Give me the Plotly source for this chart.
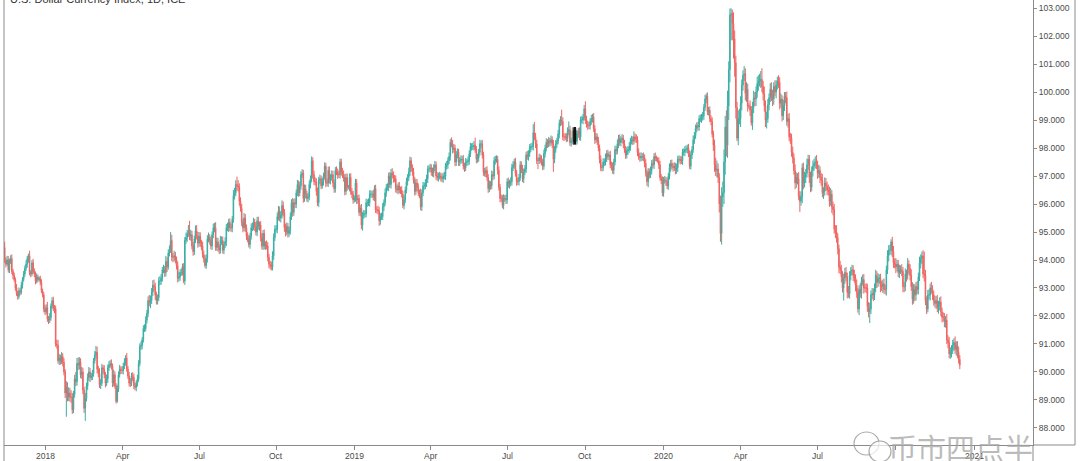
import pandas as pd
import plotly.graph_objects as go

# ---------------- data ----------------
start_date = "2017-11-13"          # first daily bar (business days)
open0 = 94.55                      # open of the first bar

# daily closes, one line per trading week
close = [
    94.45, 94.00, 93.85, 94.00, 93.65,
    93.95, 94.05, 93.60, 93.45, 93.30,
    93.00, 92.80, 92.70, 92.90, 92.85,
    93.10, 93.30, 93.50, 93.70, 93.85,
    94.05, 94.15, 93.55, 93.50, 93.90,
    93.60, 93.50, 93.25, 93.40, 93.30,
    93.35, 93.20, 92.90, 92.75, 92.25,
    92.15, 92.30, 91.90, 91.85, 91.95,
    92.35, 92.55, 92.30, 92.25, 91.00,
    90.95, 90.40, 90.50, 90.40, 90.55,
    90.35, 90.00, 89.25, 89.45, 89.10,
    89.25, 89.10, 89.10, 88.65, 89.20,
    89.75, 89.65, 90.30, 90.25, 90.35,
    89.90, 90.00, 89.35, 88.70, 89.05,
    89.50, 89.80, 90.00, 89.80, 89.85,
    89.95, 90.40, 90.60, 90.70, 90.10,
    89.95, 89.55, 89.60, 90.15, 90.10,
    89.90, 89.60, 89.75, 90.15, 90.25,
    90.30, 90.20, 89.60, 89.90, 89.50,
    88.95, 89.40, 89.90, 90.10, 90.05,
    90.05, 90.20, 90.35, 90.50, 90.10,
    89.85, 89.60, 89.60, 89.85, 89.80,
    89.50, 89.45, 89.60, 89.75, 90.30,
    90.90, 90.95, 91.15, 91.55, 91.55,
    91.85, 92.10, 92.55, 92.50, 92.55,
    92.85, 93.10, 93.05, 92.75, 92.55,
    92.65, 93.25, 93.25, 93.35, 93.65,
    93.65, 93.55, 93.95, 93.75, 94.25,
    94.40, 94.70, 94.10, 94.10, 94.15,
    94.00, 93.80, 93.35, 93.40, 93.55,
    93.55, 93.75, 93.25, 94.70, 94.80,
    94.95, 95.05, 94.85, 94.90, 94.50,
    94.30, 94.75, 95.05, 94.85, 94.60,
    94.85, 94.60, 94.50, 94.20, 94.05,
    93.80, 94.05, 94.75, 94.80, 94.70,
    94.50, 94.90, 95.15, 95.15, 94.45,
    94.65, 94.45, 94.35, 94.70, 94.70,
    94.35, 94.55, 94.65, 95.15, 95.15,
    95.35, 95.15, 95.15, 95.45, 96.30,
    96.40, 96.70, 96.65, 96.60, 96.10,
    95.85, 95.35, 95.15, 95.50, 95.15,
    94.85, 94.75, 94.55, 94.85, 95.15,
    95.20, 95.35, 95.20, 95.00, 95.40,
    95.20, 95.25, 94.80, 94.50, 94.95,
    94.50, 94.55, 94.50, 94.10, 93.85,
    93.80, 93.75, 94.15, 94.80, 95.10,
    95.10, 95.55, 95.75, 95.50, 95.60,
    95.95, 95.70, 95.15, 95.00, 95.20,
    94.95, 95.05, 95.55, 96.05, 95.70,
    96.05, 96.00, 96.40, 96.70, 96.40,
    96.65, 97.05, 97.10, 96.20, 96.55,
    96.35, 96.20, 96.25, 96.70, 96.90,
    97.55, 97.05, 96.80, 96.80, 96.45,
    96.05, 96.85, 96.90, 96.65, 96.80,
    97.00, 97.35, 96.75, 96.75, 97.20,
    96.85, 96.95, 97.05, 96.75, 96.55,
    97.20, 97.15, 97.05, 97.05, 97.50,
    97.15, 97.05, 96.95, 96.45, 96.95,
    96.60, 96.60, 96.95, 96.45, 96.35,
    96.15, 96.20, 96.75, 96.15, 96.20,
    95.70, 95.85, 95.25, 95.60, 95.65,
    95.65, 96.05, 96.05, 96.05, 96.35,
    96.35, 96.35, 96.25, 96.55, 95.80,
    95.80, 95.75, 95.40, 95.55, 95.55,
    95.90, 96.05, 96.40, 96.60, 96.60,
    97.00, 96.70, 97.10, 97.05, 96.90,
    96.90, 96.55, 96.50, 96.65, 96.50,
    96.50, 96.35, 95.95, 96.15, 96.50,
    96.80, 96.95, 97.15, 97.55, 97.30,
    97.15, 96.85, 96.45, 96.75, 96.60,
    96.40, 96.35, 95.90, 96.40, 96.65,
    96.65, 96.75, 96.90, 97.25, 97.25,
    97.30, 97.15, 97.10, 97.30, 97.40,
    97.00, 96.95, 97.00, 97.00, 96.95,
    96.90, 97.00, 97.00, 97.35, 97.40,
    97.55, 97.70, 98.20, 98.15, 97.95,
    98.00, 97.50, 97.75, 97.85, 97.50,
    97.55, 97.60, 97.60, 97.35, 97.30,
    97.50, 97.50, 97.55, 97.80, 98.05,
    98.05, 98.05, 98.10, 97.95, 97.60,
    97.65, 97.85, 98.15, 98.15, 97.75,
    97.15, 97.10, 97.20, 96.95, 96.55,
    96.70, 96.65, 97.05, 97.00, 97.55,
    97.60, 97.60, 97.20, 96.60, 96.20,
    96.20, 95.95, 96.20, 96.20, 96.15,
    96.80, 96.70, 96.75, 96.80, 97.30,
    97.40, 97.50, 97.10, 96.80, 96.80,
    96.95, 97.40, 97.25, 96.90, 97.15,
    97.25, 97.75, 97.70, 97.80, 98.00,
    98.05, 98.05, 98.55, 98.40, 98.15,
    97.55, 97.55, 97.65, 97.60, 97.50,
    97.35, 97.80, 98.00, 98.20, 98.15,
    98.25, 98.20, 98.30, 98.15, 97.60,
    97.95, 98.15, 98.25, 98.50, 98.90,
    99.00, 98.95, 98.40, 98.40, 98.40,
    98.35, 98.60, 98.65, 98.20, 98.25,
    98.60, 98.25, 98.60, 98.25, 98.50,
    98.60, 98.40, 99.00, 99.00, 99.10,
    99.40, 99.00, 98.85, 98.80, 98.80,
    98.95, 99.05, 99.10, 98.70, 98.30,
    98.40, 98.25, 98.00, 97.60, 97.30,
    97.30, 97.50, 97.50, 97.65, 97.80,
    97.70, 97.75, 97.40, 97.35, 97.20,
    97.50, 97.95, 97.90, 98.15, 98.35,
    98.20, 98.30, 98.35, 98.15, 97.95,
    97.75, 97.90, 97.95, 98.05, 98.25,
    98.30, 98.25, 98.40, 98.35, 98.30,
    97.85, 97.70, 97.65, 97.70, 97.70,
    97.65, 97.45, 97.10, 96.80, 97.15,
    97.05, 97.20, 97.45, 97.40, 97.70,
    97.65, 97.60, 97.55, 97.40, 96.95,
    96.85, 96.40, 96.85, 96.85, 96.80,
    96.65, 97.00, 97.30, 97.45, 97.35,
    97.30, 97.35, 97.20, 97.30, 97.60,
    97.60, 97.55, 97.55, 97.85, 97.85,
    97.95, 97.95, 98.00, 97.80, 97.35,
    97.75, 97.95, 98.30, 98.45, 98.70,
    98.80, 98.75, 99.05, 99.05, 99.10,
    99.15, 99.45, 99.75, 99.85, 99.30,
    99.35, 99.05, 98.95, 98.50, 98.10,
    97.40, 97.20, 97.25, 96.95, 96.00,
    94.95, 96.25, 96.40, 97.50, 98.75,
    98.10, 99.50, 100.80, 102.75, 102.80,
    102.45, 101.90, 101.05, 99.45, 98.35,
    99.05, 99.05, 99.60, 100.25, 100.60,
    100.65, 99.95, 100.10, 99.50, 99.50,
    99.35, 98.90, 99.45, 99.80, 99.75,
    100.00, 100.30, 100.40, 100.40, 100.45,
    100.20, 99.95, 99.50, 99.00, 99.05,
    99.55, 99.80, 100.10, 99.90, 99.75,
    100.20, 100.00, 100.25, 100.40, 100.35,
    99.60, 99.75, 99.15, 99.50, 99.85,
    99.80, 98.95, 99.05, 98.40, 98.35,
    97.85, 97.65, 97.20, 96.75, 96.95,
    96.90, 96.30, 96.10, 96.25, 97.30,
    96.75, 96.95, 97.10, 97.40, 97.60,
    96.95, 96.60, 97.20, 97.35, 97.45,
    97.50, 97.40, 97.10, 97.20, 96.95,
    96.85, 96.40, 96.45, 96.75, 96.65,
    96.50, 96.45, 96.10, 96.35, 95.90,
    95.80, 95.10, 95.00, 94.80, 94.40,
    93.75, 93.65, 93.40, 93.00, 93.35,
    93.55, 93.40, 92.85, 92.80, 93.45,
    93.60, 93.65, 93.45, 93.35, 93.10,
    92.85, 92.25, 92.95, 92.80, 93.25,
    93.30, 93.00, 93.00, 93.00, 92.35,
    92.15, 92.25, 92.75, 92.80, 92.75,
    93.00, 93.45, 93.20, 93.35, 93.35,
    93.05, 93.05, 93.15, 92.95, 92.95,
    93.65, 94.15, 94.35, 94.35, 94.65,
    94.30, 93.90, 93.85, 93.75, 93.85,
    93.55, 93.65, 93.65, 93.60, 93.05,
    93.05, 93.50, 93.45, 93.85, 93.70,
    93.45, 93.05, 92.60, 92.95, 92.75,
    93.05, 92.95, 93.40, 93.90, 94.05,
    94.15, 93.50, 93.45, 92.55, 92.25,
    92.75, 92.75, 93.00, 92.95, 92.75,
    92.55, 92.45, 92.55, 92.30, 92.40,
    92.50, 92.15, 91.95, 91.95, 91.80,
    91.85, 91.15, 91.05, 90.65, 90.70,
    90.80, 90.95, 91.05, 90.80, 90.95,
    90.70, 90.45, 90.25,
]

# upper wick above the candle body, hundredths of an index point
wick_hi = [
    12, 20, 10, 15, 14,
    10, 12, 15, 8, 10,
    8, 14, 10, 12, 9,
    12, 9, 11, 10, 14,
    10, 8, 18, 9, 10,
    14, 10, 9, 12, 8,
    6, 9, 11, 8, 10,
    14, 12, 20, 10, 15,
    10, 12, 14, 9, 12,
    15, 20, 14, 12, 16,
    12, 14, 10, 22, 18,
    20, 18, 25, 15, 12,
    15, 25, 20, 22, 18,
    14, 18, 15, 12, 20,
    12, 15, 18, 14, 12,
    12, 10, 15, 23, 20,
    12, 18, 15, 14, 10,
    14, 10, 16, 12, 14,
    12, 15, 10, 18, 12,
    10, 14, 12, 15, 10,
    15, 12, 14, 10, 18,
    12, 15, 18, 12, 14,
    14, 12, 10, 15, 12,
    12, 14, 10, 12, 15,
    14, 12, 15, 20, 18,
    15, 18, 20, 14, 12,
    12, 14, 18, 15, 10,
    18, 14, 20, 15, 12,
    12, 30, 20, 15, 18,
    14, 12, 15, 18, 12,
    15, 12, 14, 12, 18,
    12, 20, 35, 18, 14,
    14, 12, 18, 20, 15,
    15, 14, 12, 16, 14,
    12, 15, 14, 18, 12,
    14, 12, 15, 18, 20,
    15, 14, 12, 16, 14,
    14, 12, 16, 14, 18,
    12, 14, 15, 12, 20,
    18, 15, 28, 20, 14,
    14, 15, 12, 18, 14,
    12, 14, 15, 12, 16,
    14, 16, 12, 15, 14,
    15, 12, 14, 16, 12,
    14, 12, 15, 14, 12,
    12, 14, 16, 15, 14,
    15, 14, 18, 16, 14,
    18, 14, 12, 15, 14,
    12, 14, 15, 12, 16,
    14, 15, 12, 16, 14,
    15, 12, 14, 12, 15,
    14, 12, 15, 14, 12,
    15, 12, 14, 15, 12,
    14, 12, 15, 12, 14,
    12, 14, 12, 15, 14,
    14, 12, 15, 14, 12,
    12, 14, 12, 15, 12,
    12, 14, 15, 12, 14,
    14, 8, 14, 15, 12,
    12, 10, 15, 14, 12,
    14, 12, 15, 12, 14,
    12, 14, 12, 15, 14,
    14, 12, 15, 12, 14,
    12, 14, 15, 12, 14,
    14, 12, 15, 12, 14,
    12, 14, 15, 18, 12,
    14, 12, 15, 12, 14,
    12, 14, 12, 15, 12,
    14, 12, 15, 14, 12,
    12, 14, 12, 15, 14,
    14, 12, 20, 12, 14,
    12, 14, 15, 12, 14,
    14, 12, 15, 12, 14,
    12, 14, 12, 15, 12,
    14, 12, 15, 12, 14,
    12, 14, 12, 18, 14,
    14, 12, 15, 14, 12,
    12, 14, 12, 15, 12,
    14, 12, 15, 12, 14,
    12, 14, 15, 27, 12,
    14, 12, 15, 12, 14,
    12, 14, 12, 15, 12,
    14, 12, 15, 12, 14,
    12, 14, 12, 15, 12,
    14, 12, 15, 12, 14,
    12, 14, 12, 15, 14,
    14, 12, 15, 12, 14,
    12, 14, 12, 15, 12,
    14, 12, 15, 12, 14,
    12, 14, 30, 38, 14,
    14, 12, 15, 12, 14,
    12, 14, 12, 15, 12,
    14, 12, 15, 12, 14,
    12, 14, 12, 15, 12,
    14, 37, 15, 12, 14,
    12, 14, 30, 15, 12,
    14, 12, 15, 12, 14,
    12, 14, 12, 15, 12,
    14, 27, 15, 12, 14,
    12, 14, 12, 15, 12,
    14, 12, 15, 12, 14,
    12, 14, 12, 15, 12,
    14, 12, 15, 12, 14,
    12, 14, 12, 15, 12,
    14, 12, 15, 12, 14,
    12, 14, 12, 15, 12,
    14, 12, 20, 12, 14,
    12, 14, 12, 15, 12,
    14, 12, 15, 12, 14,
    12, 14, 12, 15, 12,
    14, 8, 8, 12, 14,
    12, 14, 12, 15, 12,
    14, 12, 15, 12, 14,
    12, 14, 12, 15, 12,
    14, 12, 15, 12, 14,
    12, 14, 12, 15, 12,
    14, 12, 15, 12, 14,
    12, 14, 12, 15, 12,
    14, 12, 15, 10, 14,
    12, 14, 12, 15, 12,
    20, 25, 30, 20, 15,
    30, 35, 40, 45, 40,
    60, 55, 30, 24, 19,
    15, 40, 30, 25, 20,
    30, 35, 25, 20, 18,
    28, 20, 25, 20, 10,
    20, 15, 20, 25, 20,
    20, 25, 20, 25, 30,
    40, 20, 25, 20, 25,
    20, 15, 22, 25, 18,
    15, 22, 17, 15, 20,
    18, 20, 14, 22, 15,
    15, 22, 17, 20, 14,
    16, 20, 15, 22, 18,
    15, 24, 16, 20, 15,
    18, 20, 15, 22, 16,
    15, 20, 14, 20, 17,
    20, 25, 15, 20, 15,
    16, 22, 15, 20, 18,
    15, 20, 17, 22, 15,
    18, 20, 15, 24, 15,
    15, 22, 18, 20, 16,
    17, 20, 15, 22, 15,
    15, 18, 16, 20, 14,
    20, 16, 15, 22, 15,
    18, 20, 15, 17, 15,
    15, 22, 16, 20, 18,
    16, 20, 15, 18, 14,
    16, 21, 15, 19, 17,
    15, 20, 18, 20, 9,
    18, 20, 15, 22, 16,
    15, 18, 16, 20, 15,
    17, 20, 15, 22, 14,
    15, 22, 16, 20, 18,
    16, 20, 15, 22, 15,
    15, 20, 80, 20, 15,
    18, 20, 16, 22, 15,
    15, 18, 16, 20, 14,
    17, 20, 15, 18, 15,
    15, 22, 16, 20, 18,
    16, 20, 15, 22, 15,
    15, 20, 15,
]

# lower wick below the candle body, hundredths of an index point
wick_lo = [
    8, 10, 12, 6, 10,
    12, 9, 10, 14, 8,
    10, 8, 12, 9, 11,
    8, 12, 7, 10, 9,
    12, 15, 10, 12, 8,
    9, 11, 12, 8, 10,
    5, 10, 8, 9, 12,
    12, 9, 11, 14, 10,
    12, 10, 13, 15, 10,
    12, 10, 15, 14, 12,
    15, 12, 18, 85, 15,
    14, 16, 20, 15, 12,
    12, 15, 14, 18, 16,
    12, 15, 14, 16, 45,
    10, 14, 12, 16, 10,
    14, 12, 10, 12, 15,
    14, 12, 16, 10, 15,
    12, 15, 10, 14, 12,
    10, 12, 14, 12, 10,
    8, 5, 12, 10, 12,
    12, 14, 10, 12, 10,
    10, 12, 14, 10, 12,
    12, 10, 14, 12, 10,
    10, 12, 14, 10, 12,
    10, 12, 14, 15, 22,
    12, 14, 15, 18, 14,
    14, 12, 15, 14, 12,
    12, 15, 14, 18, 10,
    12, 15, 14, 18, 15,
    12, 14, 15, 12, 14,
    12, 10, 8, 14, 12,
    15, 12, 14, 16, 12,
    15, 12, 14, 12, 16,
    12, 14, 15, 12, 14,
    8, 12, 14, 12, 15,
    12, 14, 12, 16, 12,
    12, 15, 14, 12, 16,
    12, 14, 12, 15, 12,
    15, 12, 14, 16, 12,
    14, 12, 18, 15, 16,
    12, 14, 16, 12, 15,
    14, 12, 10, 15, 12,
    12, 14, 16, 12, 15,
    12, 15, 14, 12, 14,
    12, 14, 12, 15, 14,
    14, 12, 12, 14, 12,
    12, 15, 14, 12, 16,
    12, 15, 14, 16, 12,
    15, 12, 14, 12, 15,
    12, 14, 15, 12, 14,
    12, 14, 12, 15, 12,
    15, 12, 14, 12, 14,
    12, 14, 12, 14, 15,
    12, 15, 14, 12, 10,
    14, 12, 15, 12, 14,
    12, 15, 12, 14, 15,
    14, 12, 15, 12, 14,
    14, 12, 15, 14, 12,
    12, 8, 15, 12, 14,
    14, 10, 12, 15, 14,
    12, 14, 15, 20, 12,
    14, 12, 15, 12, 14,
    12, 14, 12, 15, 12,
    14, 12, 18, 14, 12,
    12, 15, 12, 14, 12,
    14, 12, 15, 12, 14,
    12, 14, 12, 15, 12,
    14, 12, 10, 14, 12,
    12, 14, 12, 15, 14,
    14, 12, 15, 12, 14,
    12, 14, 12, 15, 12,
    14, 12, 14, 15, 12,
    12, 14, 12, 15, 12,
    14, 12, 15, 12, 14,
    12, 14, 12, 14, 12,
    14, 12, 15, 12, 14,
    12, 15, 14, 12, 14,
    14, 12, 14, 12, 15,
    12, 14, 12, 15, 12,
    14, 12, 14, 12, 15,
    12, 14, 12, 15, 12,
    14, 12, 14, 12, 15,
    12, 14, 12, 15, 12,
    14, 12, 15, 12, 14,
    12, 10, 14, 12, 15,
    14, 12, 15, 12, 14,
    12, 14, 12, 15, 12,
    14, 12, 14, 12, 15,
    12, 14, 12, 15, 12,
    14, 12, 14, 12, 15,
    12, 30, 12, 15, 12,
    14, 12, 14, 12, 15,
    12, 14, 12, 15, 45,
    14, 12, 14, 12, 15,
    12, 14, 12, 15, 12,
    14, 12, 14, 12, 15,
    12, 14, 12, 15, 12,
    14, 12, 14, 12, 15,
    12, 14, 12, 15, 12,
    14, 12, 14, 12, 15,
    12, 14, 12, 15, 12,
    14, 12, 14, 12, 15,
    12, 14, 12, 15, 12,
    14, 12, 14, 12, 15,
    12, 14, 12, 15, 12,
    14, 12, 14, 12, 15,
    12, 14, 12, 15, 12,
    14, 12, 14, 12, 15,
    12, 14, 12, 15, 20,
    14, 12, 14, 12, 15,
    12, 8, 8, 15, 12,
    14, 12, 14, 12, 15,
    12, 14, 12, 15, 12,
    14, 12, 14, 12, 15,
    12, 14, 12, 15, 12,
    14, 12, 14, 12, 10,
    12, 14, 12, 15, 12,
    14, 12, 14, 12, 15,
    12, 14, 12, 15, 12,
    14, 12, 14, 12, 20,
    25, 20, 25, 20, 30,
    30, 40, 35, 40, 45,
    40, 45, 50, 45, 90,
    60, 70, 50, 40, 10,
    25, 20, 30, 25, 20,
    20, 25, 30, 20, 10,
    20, 10, 25, 20, 25,
    25, 20, 25, 20, 25,
    20, 25, 20, 25, 30,
    15, 20, 16, 22, 25,
    20, 15, 22, 16, 20,
    22, 16, 20, 15, 18,
    20, 15, 22, 16, 20,
    16, 20, 15, 22, 17,
    20, 15, 38, 16, 22,
    22, 16, 20, 15, 18,
    20, 18, 15, 22, 16,
    18, 15, 20, 16, 20,
    20, 16, 22, 15, 18,
    18, 15, 20, 16, 22,
    20, 16, 22, 18, 20,
    22, 15, 20, 16, 45,
    20, 16, 22, 15, 18,
    18, 15, 20, 16, 22,
    20, 13, 22, 15, 18,
    16, 20, 15, 18, 20,
    20, 40, 18, 15, 22,
    18, 15, 20, 16, 20,
    20, 16, 22, 15, 18,
    22, 15, 20, 16, 18,
    20, 18, 15, 22, 16,
    16, 20, 15, 18, 20,
    20, 16, 22, 15, 18,
    18, 15, 20, 16, 22,
    20, 16, 18, 15, 20,
    20, 15, 22, 16, 18,
    12, 16, 20, 15, 18,
    18, 15, 20, 16, 22,
    20, 16, 18, 15, 20,
    22, 15, 20, 16, 18,
    18, 16, 20, 15, 22,
    20, 15, 15,
]

# x-axis quarter labels (TradingView style)
tick_months = ["2018-01", "2018-04", "2018-07", "2018-10",
               "2019-01", "2019-04", "2019-07", "2019-10",
               "2020-01", "2020-04", "2020-07", "2020-10", "2021-01"]
tick_text = ["2018", "Apr", "Jul", "Oct",
             "2019", "Apr", "Jul", "Oct",
             "2020", "Apr", "Jul", "", "2021"]

highlight_date = "2019-09-18"      # the single black candle
title_text = "U.S. Dollar Currency Index, 1D, ICE"
watermark_text = "币市四点半"

# ---------------- build ----------------
n = min(len(close), len(wick_hi), len(wick_lo))
close = close[:n]
dates = pd.bdate_range(start_date, periods=n)
idx = list(range(n))
opens = [open0] + close[:-1]
highs = [max(o, c) + h / 100 for o, c, h in zip(opens, close, wick_hi[:n])]
lows = [min(o, c) - l / 100 for o, c, l in zip(opens, close, wick_lo[:n])]

all_days = pd.bdate_range(start_date, "2021-01-10")
tick_vals = [int(all_days.searchsorted(pd.Timestamp(m + "-01"))) for m in tick_months]

UP = "#26a69a"
DN = "#ef5350"

fig = go.Figure()
fig.add_trace(go.Candlestick(
    x=idx, open=opens, high=highs, low=lows, close=close,
    increasing=dict(line=dict(color=UP, width=1), fillcolor=UP),
    decreasing=dict(line=dict(color=DN, width=1), fillcolor=DN),
    whiskerwidth=0, hoverinfo="skip", showlegend=False, opacity=0.9,
))

hi_i = int(dates.searchsorted(pd.Timestamp(highlight_date)))
fig.add_trace(go.Candlestick(
    x=[hi_i], open=[opens[hi_i]], high=[highs[hi_i]], low=[lows[hi_i]], close=[close[hi_i]],
    increasing=dict(line=dict(color="#111111", width=2.5), fillcolor="#111111"),
    decreasing=dict(line=dict(color="#111111", width=2.5), fillcolor="#111111"),
    whiskerwidth=0, hoverinfo="skip", showlegend=False,
))

W, H = 1080, 461
ML, MR, MT, MB = 4, 47, 0, 16
PX_PER_BAR = 1.185
x_first = tick_vals[0] - (45 - ML) / PX_PER_BAR
x_last = x_first + (W - ML - MR) / PX_PER_BAR

axis_font = dict(family="Liberation Sans", size=8.5, color="#4a4a4a")

fig.update_layout(
    width=W, height=H,
    margin=dict(l=ML, r=MR, t=MT, b=MB, autoexpand=False),
    paper_bgcolor="white", plot_bgcolor="white",
    showlegend=False,
    xaxis=dict(
        range=[x_first, x_last], tickmode="array", tickvals=tick_vals, ticktext=tick_text,
        showticklabels=False, automargin=False,
        ticks="outside", ticklen=4, tickcolor="#8a8a8a",
        showgrid=False, zeroline=False, showline=True, linecolor="#8a8a8a", linewidth=1,
        rangeslider=dict(visible=False), fixedrange=True,
    ),
    yaxis=dict(
        side="right", range=[87.39, 103.29], tick0=88, dtick=1, tickformat=".3f",
        ticks="outside", ticklen=3, tickcolor="#8a8a8a", tickfont=axis_font,
        showgrid=False, zeroline=False, showline=True, linecolor="#8a8a8a", linewidth=1,
        fixedrange=True, automargin=False,
    ),
)

pw = W - ML - MR
ph = H - MT - MB
def px2x(px):
    return (px - ML) / pw
def py2y(py):
    return (H - MB - py) / ph

# x tick labels placed just under the axis
for tv, tt in zip(tick_vals, tick_text):
    if tt:
        fig.add_annotation(text=tt, x=tv, xref="x", y=py2y(456), yref="paper",
                           xanchor="center", yanchor="middle", showarrow=False,
                           font=axis_font)

# frame lines (left border, right border, axis extensions)
line_style = dict(color="#8a8a8a", width=1)
fig.add_shape(type="line", xref="paper", yref="paper", x0=0, x1=0, y0=py2y(H), y1=1, line=line_style)
fig.add_shape(type="line", xref="paper", yref="paper", x0=1, x1=1, y0=py2y(H), y1=0, line=line_style)
fig.add_shape(type="line", xref="paper", yref="paper", x0=1, x1=px2x(1075), y0=0, y1=0, line=line_style)
fig.add_shape(type="line", xref="paper", yref="paper", x0=px2x(1075), x1=px2x(1075), y0=0, y1=1, line=line_style)

# title (cut off at top, as in the screenshot)
fig.add_annotation(
    text=title_text, xref="paper", yref="paper", x=px2x(8), y=1,
    xanchor="left", yanchor="middle", yshift=1, showarrow=False,
    font=dict(family="Liberation Sans", size=11, color="#333333"),
)

# watermark: WeChat-like bubbles + text
wm = dict(color="rgba(150,150,150,0.8)", width=1.2)
fig.add_shape(type="circle", xref="paper", yref="paper",
              x0=px2x(854), x1=px2x(879), y0=py2y(455), y1=py2y(432), line=wm)
fig.add_shape(type="circle", xref="paper", yref="paper",
              x0=px2x(869), x1=px2x(891), y0=py2y(462), y1=py2y(441), line=wm,
              fillcolor="rgba(255,255,255,0.7)")
fig.add_annotation(
    text=watermark_text, xref="paper", yref="paper", x=px2x(960), y=py2y(447),
    xanchor="center", yanchor="middle", showarrow=False,
    font=dict(family="Noto Sans CJK SC", size=29, color="rgba(165,165,165,0.75)"),
)

# remove the browser's default 8px body margin so the figure sits at the page corner
fig.write_html(
    "out.html",
    config={"displayModeBar": False, "staticPlot": True},
    post_script="document.body.style.margin='0';document.body.style.overflow='hidden';",
)
